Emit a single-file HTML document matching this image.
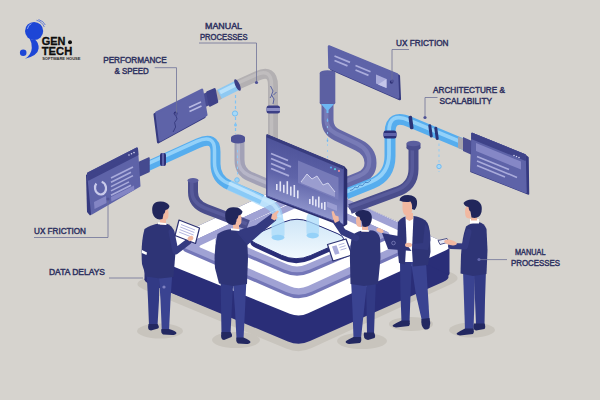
<!DOCTYPE html>
<html><head><meta charset="utf-8"><title>Gen.Tech</title>
<style>html,body{margin:0;padding:0;background:#d6d3ce;}body{width:600px;height:400px;overflow:hidden;font-family:"Liberation Sans",sans-serif;}</style>
</head><body>
<svg width="600" height="400" viewBox="0 0 600 400" style="display:block">
<defs>
<linearGradient id="glass" x1="0" y1="0" x2="0" y2="1"><stop offset="0" stop-color="#cfe6f7"/><stop offset="1" stop-color="#f2f9fe"/></linearGradient>
<linearGradient id="scr" x1="0.3" y1="0" x2="0.1" y2="1"><stop offset="0" stop-color="#4a4f96"/><stop offset="0.45" stop-color="#5f64a9"/><stop offset="0.75" stop-color="#8a90c8"/><stop offset="1" stop-color="#b2c0e6"/></linearGradient>
</defs>
<rect width="600" height="400" fill="#d6d3ce"/>
<g id="platform"><path d="M143.9 289.4Q131.0 284.0 143.8 278.4L287.2 215.6Q300.0 210.0 312.9 215.4L451.1 272.6Q464.0 278.0 451.3 283.9L311.7 348.1Q299.0 354.0 286.1 348.6Z" fill="#c8c4bd"/><path d="M149.3 283.8Q140.0 280.0 149.1 275.8L290.9 209.7Q300.0 205.5 309.1 209.5L444.9 269.6Q454.0 273.6 444.9 277.8L308.1 340.3Q299.0 344.5 289.7 340.7Z" fill="#2a2e78"/><polygon points="144.5,253.0 449.5,246.6 449.5,273.6 144.5,280.0" fill="#2a2e78"/><path d="M149.3 256.8Q140.0 253.0 149.1 248.8L290.9 182.7Q300.0 178.5 309.1 182.5L444.9 242.6Q454.0 246.6 444.9 250.8L308.1 313.3Q299.0 317.5 289.7 313.7Z" fill="#2a2e78"/><path d="M151.1 284.6Q140.0 280.0 150.9 274.9L289.1 210.1Q300.0 205.0 310.9 210.1L443.1 271.9Q454.0 277.0 443.0 281.9L310.0 341.1Q299.0 346.0 287.9 341.4Z" fill="#2a2e78"/><path d="M149.3 256.8Q140.0 253.0 149.1 248.8L290.9 182.7Q300.0 178.5 309.1 182.5L444.9 242.6Q454.0 246.6 444.9 250.8L308.1 313.3Q299.0 317.5 289.7 313.7Z" fill="#ffffff"/><path d="M185.6 252.0Q181.0 250.0 185.5 247.9L306.7 191.4Q314.0 188.0 321.3 191.3L426.4 238.9Q431.0 241.0 426.4 243.1L311.7 295.2Q299.0 301.0 286.1 295.4Z" fill="#7477b8"/><polygon points="183.2,246.5 428.8,237.5 428.8,241.0 183.2,250.0" fill="#7477b8"/><path d="M185.6 248.5Q181.0 246.5 185.5 244.4L306.7 187.9Q314.0 184.5 321.3 187.8L426.4 235.4Q431.0 237.5 426.4 239.6L311.7 291.7Q299.0 297.5 286.1 291.9Z" fill="#7477b8"/><path d="M185.6 248.5Q181.0 246.5 185.5 244.4L306.7 187.9Q314.0 184.5 321.3 187.8L426.4 235.4Q431.0 237.5 426.4 239.6L311.7 291.7Q299.0 297.5 286.1 291.9Z" fill="#a0a2d4"/><path d="M200.8 247.7Q198.0 246.5 200.7 245.2L309.5 193.9Q314.0 191.8 318.5 193.9L411.3 236.3Q414.0 237.5 411.3 238.7L308.1 286.0Q299.0 290.2 289.8 286.2Z" fill="#ffffff"/><path d="M218.5 244.9Q213.0 242.5 218.5 240.0L300.7 202.8Q308.0 199.5 315.3 202.8L386.5 235.0Q392.0 237.5 386.5 239.9L309.9 273.0Q297.0 278.5 284.1 273.0Z" fill="#7477b8"/><polygon points="215.7,239.0 389.3,234.0 389.3,237.5 215.7,242.5" fill="#7477b8"/><path d="M218.5 241.4Q213.0 239.0 218.5 236.5L300.7 199.3Q308.0 196.0 315.3 199.3L386.5 231.5Q392.0 234.0 386.5 236.4L309.9 269.5Q297.0 275.0 284.1 269.5Z" fill="#7477b8"/><path d="M218.5 241.4Q213.0 239.0 218.5 236.5L300.7 199.3Q308.0 196.0 315.3 199.3L386.5 231.5Q392.0 234.0 386.5 236.4L309.9 269.5Q297.0 275.0 284.1 269.5Z" fill="#a0a2d4"/><path d="M231.7 240.6Q228.0 239.0 231.6 237.3L303.5 204.5Q308.0 202.4 312.5 204.5L373.4 232.3Q377.0 234.0 373.3 235.6L306.2 264.6Q297.0 268.6 287.8 264.6Z" fill="#ffffff"/><path d="M255.9 248.0Q245.0 243.0 256.1 238.3L284.1 226.5Q297.0 221.0 309.9 226.5L337.9 238.3Q349.0 243.0 338.0 247.9L310.6 260.0Q296.0 266.5 281.5 259.8Z" fill="#2a2e78"/><polygon points="250.4,238.5 343.6,238.5 343.6,243.0 250.4,243.0" fill="#2a2e78"/><path d="M255.9 243.5Q245.0 238.5 256.1 233.8L284.1 222.0Q297.0 216.5 309.9 222.0L337.9 233.8Q349.0 238.5 338.0 243.4L310.6 255.5Q296.0 262.0 281.5 255.3Z" fill="#2a2e78"/><path d="M255.9 243.5Q245.0 238.5 256.1 233.8L284.1 222.0Q297.0 216.5 309.9 222.0L337.9 233.8Q349.0 238.5 338.0 243.4L310.6 255.5Q296.0 262.0 281.5 255.3Z" fill="url(#glass)" stroke="#2a2e78" stroke-width="1"/></g>
<g id="pipes"><path d="M193 181 L193 192 Q193 204 206 209 L248 225" fill="none" stroke="#4a4d8c" stroke-width="10.0" stroke-linecap="butt" stroke-linejoin="round" opacity="1"/><path d="M193 181 L193 192 Q193 204 206 209 L248 225" fill="none" stroke="#585b9b" stroke-width="3.5" stroke-linecap="butt" stroke-linejoin="round" transform="translate(-1.2 -1.2)" opacity="1"/><ellipse cx="193" cy="180.5" rx="5.5" ry="2.4" fill="#5b5e9f"/><path d="M413.500 146 L413.500 169 Q413.500 186.500 396 192 L350 209" fill="none" stroke="#4a4d8c" stroke-width="10.0" stroke-linecap="butt" stroke-linejoin="round" opacity="1"/><path d="M413.500 146 L413.500 169 Q413.500 186.500 396 192 L350 209" fill="none" stroke="#585b9b" stroke-width="3.5" stroke-linecap="butt" stroke-linejoin="round" transform="translate(-1.2 -1.2)" opacity="1"/><rect x="406.500" y="143.500" width="14" height="4.500" fill="#4a4d8e"/><ellipse cx="413.500" cy="148" rx="7" ry="2.500" fill="#4a4d8e"/><ellipse cx="413.500" cy="143.500" rx="7" ry="2.800" fill="#5b5e9f"/><path d="M239.500 139 L239.500 160 Q239.500 172 250 176.500 L270 185" fill="none" stroke="#a2a1b6" stroke-width="10.0" stroke-linecap="butt" stroke-linejoin="round" opacity="1"/><path d="M239.500 139 L239.500 160 Q239.500 172 250 176.500 L270 185" fill="none" stroke="#b7b6c8" stroke-width="3.5" stroke-linecap="butt" stroke-linejoin="round" transform="translate(-1.2 -1.2)" opacity="1"/><ellipse cx="238" cy="137.500" rx="7" ry="3" fill="#4f5296"/><rect x="231" y="137.500" width="14" height="3.500" fill="#4f5296"/><ellipse cx="238" cy="141" rx="7" ry="2.500" fill="#4f5296"/><path d="M236 85.5 L257 76 Q273 68.5 273 86 L273 140" fill="none" stroke="#b3b0b2" stroke-width="10.0" stroke-linecap="butt" stroke-linejoin="round" opacity="1"/><path d="M236 85.5 L257 76 Q273 68.5 273 86 L273 140" fill="none" stroke="#c0bdbe" stroke-width="3.5" stroke-linecap="butt" stroke-linejoin="round" transform="translate(-1.5 -1.0)" opacity="1"/><path d="M214 97 L237 85.5" stroke="#8ec9f2" stroke-width="10" fill="none"/><path d="M214 97 L219.500 94.250" stroke="#b3b0b3" stroke-width="10" fill="none"/><path d="M220 92.500 L237 84" stroke="#b7e0fa" stroke-width="4" fill="none"/><ellipse cx="237.500" cy="85" rx="2.200" ry="6.300" fill="#3c3f86" transform="rotate(-25 237.5 85)"/><rect x="266.500" y="105.500" width="13.500" height="8" rx="2.500" fill="#3c3f86"/><rect x="266.500" y="108" width="13.500" height="3" fill="#8b8dc4"/><path d="M270.500 86 l2.500 5 l-1.500 4 l2.500 4 l-1 5 M273.500 95 l3 -3 M272 95 l-2 3" stroke="#3d4a9a" stroke-width="0.800" fill="none"/><path d="M235.5 95 L235.5 134" stroke="#7fc4f5" stroke-width="1.2" stroke-dasharray="3 2.5" fill="none"/><circle cx="235" cy="113.500" r="2.600" fill="#a6d9f8" stroke="#6bbaf3" stroke-width="0.900"/><circle cx="235.500" cy="125" r="1.500" fill="#7fc4f5"/><path d="M327.500 101 L327.500 120 Q327.500 130.500 337 135 L358 145 Q370.500 151 370.500 163 Q370.500 173.500 360 177.500 L344 184" fill="none" stroke="#6568a7" stroke-width="12.0" stroke-linecap="butt" stroke-linejoin="round" opacity="1"/><path d="M327.500 101 L327.500 120 Q327.500 130.500 337 135 L358 145 Q370.500 151 370.500 163 Q370.500 173.500 360 177.500 L344 184" fill="none" stroke="#787bb6" stroke-width="4.2" stroke-linecap="butt" stroke-linejoin="round" transform="translate(-1.2 -1.5)" opacity="1"/><rect x="319.700" y="73" width="15.600" height="30" fill="#5c60a2"/><ellipse cx="327.500" cy="73" rx="7.800" ry="2.800" fill="#5c60a2"/><ellipse cx="327.500" cy="103" rx="7.800" ry="2.500" fill="#5c60a2"/><path d="M321 104 L334 104 L328.5 110 L328.5 113 L326.500 113 L326.500 110 Z" fill="#6db7f3"/><path d="M327.5 118 q-1.600 3 0 4 q1.600 -1 0 -4 M327.5 138 q-1.600 3 0 4 q1.600 -1 0 -4" fill="#6db7f3"/><path d="M327.5 126 L327.5 165" stroke="#8ecbf7" stroke-width="0.8" stroke-dasharray="2 4" fill="none"/><path d="M470 147 L410 122 Q390 113.500 390 133 L390 156 Q390 176 372 183.500 L346 194" fill="none" stroke="#56adee" stroke-width="11.0" stroke-linecap="butt" stroke-linejoin="round" opacity="1"/><path d="M470 147 L410 122 Q390 113.500 390 133 L390 156 Q390 176 372 183.500 L346 194" fill="none" stroke="#93d1f9" stroke-width="3.8" stroke-linecap="butt" stroke-linejoin="round" transform="translate(-1.0 -1.8)" opacity="1"/><rect x="409.2" y="115.8" width="3.6" height="13.500" rx="1.500" fill="#2b3478" transform="rotate(-8 411.0 122.5)"/><rect x="429.0" y="124.1" width="3.0" height="13.500" rx="1.500" fill="#2b3478" transform="rotate(-8 430.5 130.8)"/><rect x="435.0" y="126.6" width="3.0" height="13.500" rx="1.500" fill="#2b3478" transform="rotate(-8 436.5 133.3)"/><rect x="383.500" y="130.500" width="13" height="8" rx="2.500" fill="#2c3078"/><rect x="383.500" y="133" width="13" height="3" fill="#5f63aa"/><polygon points="458,136.500 463,138.500 463,150 458,148" fill="#a7a5ad"/><polygon points="463,137 472,141 472,155 463,151" fill="#4a4d90"/><path d="M439 143.500 L439 172" stroke="#8ecbf7" stroke-width="1" stroke-dasharray="2.5 3" fill="none"/><circle cx="439" cy="166.500" r="2.200" fill="#a6d9f8" stroke="#6bb8f2" stroke-width="0.900"/><path d="M138 170.500 L198 143.200 Q215.500 135.500 215.500 152 L215.500 164 Q215.500 179 229 185 L262 199.500" fill="none" stroke="#56adee" stroke-width="10.0" stroke-linecap="butt" stroke-linejoin="round" opacity="1"/><path d="M138 170.500 L198 143.200 Q215.500 135.500 215.500 152 L215.500 164 Q215.500 179 229 185 L262 199.500" fill="none" stroke="#93d1f9" stroke-width="3.5" stroke-linecap="butt" stroke-linejoin="round" transform="translate(-1.0 -1.8)" opacity="1"/><rect x="160" y="153" width="6" height="13" rx="2" fill="#2c3078"/><rect x="162" y="153" width="2" height="13" fill="#5f63aa"/><polygon points="139,162.500 149,158 149,171.500 139,176" fill="#454a8f" stroke="#454a8f" stroke-width="1.500" stroke-linejoin="round"/><circle cx="237" cy="180" r="2.300" fill="#9bd3f8" stroke="#6bbaf3" stroke-width="0.800"/><path d="M237.500 150 L237.500 175" stroke="#8ecbf7" stroke-width="1" stroke-dasharray="2.500 3" fill="none"/><rect x="306.500" y="212" width="12.500" height="26.500" rx="6" fill="#a9dbfa" opacity="0.75"/><ellipse cx="312.700" cy="235.500" rx="6.200" ry="2.800" fill="#8ccdf7" opacity="0.800"/></g>
<g id="panels"><polygon points="154.7,114.3 200.2,91.6 204.5,116.8 158.2,142.1" fill="#363a80" stroke="#363a80" stroke-width="2.500" stroke-linejoin="round"/><polygon points="203.0,94.0 209.0,91.2 211.5,104.0 205.5,107.0" fill="#474a90" /><polygon points="156.5,112.5 202.0,89.8 206.3,115.0 160.0,140.3" fill="#5e63a8" stroke="#5e63a8" stroke-width="2.500" stroke-linejoin="round"/><polygon points="207.5,92.5 214.5,89.3 217.0,102.0 210.0,105.5" fill="#3f4288" stroke="#3f4288" stroke-width="2.500" stroke-linejoin="round"/><path d="M189 107.500 L201 102 M189.500 111.500 L201.500 106" stroke="#b7b9e2" stroke-width="1.600"/><circle cx="175.600" cy="113.500" r="1.900" fill="#2f3276"/><path d="M175.600 115 l1.500 4 l-2.500 3.500 l1 4.500 l-2.500 5" stroke="#2f3276" stroke-width="0.800" fill="none"/><polygon points="86.0,175.0 88.0,173.5 92.0,214.0 90.0,215.5 87.0,212.0" fill="#363a80" /><polygon points="88.0,173.5 137.0,148.5 139.5,186.0 92.0,213.5" fill="#5e63a8" stroke="#5e63a8" stroke-width="2" stroke-linejoin="round"/><polygon points="88.0,173.5 137.0,148.5 137.4,154.5 88.5,179.5" fill="#3f4389" stroke="#3f4389" stroke-width="2" stroke-linejoin="round"/><circle cx="129" cy="155" r="0.800" fill="#d6d7f0"/><circle cx="131.500" cy="153.800" r="0.800" fill="#d6d7f0"/><circle cx="134" cy="152.600" r="0.800" fill="#d6d7f0"/><ellipse cx="100.5" cy="188" rx="5.500" ry="6.500" fill="none" stroke="#c9caea" stroke-width="2.200" transform="rotate(-10 100.5 188)" stroke-dasharray="24 6"/><path d="M111 178.0 l22.0 -11.0" stroke="#a9abdb" stroke-width="1.600"/><path d="M111 182.3 l20.0 -10.0" stroke="#a9abdb" stroke-width="1.600"/><path d="M111 186.6 l22.0 -11.0" stroke="#a9abdb" stroke-width="1.600"/><path d="M111 190.9 l18.0 -9.0" stroke="#a9abdb" stroke-width="1.600"/><path d="M111 195.2 l20.0 -10.0" stroke="#a9abdb" stroke-width="1.600"/><polygon points="94.0,202.0 106.0,196.0 106.5,203.0 94.5,209.0" fill="#8385c4" /><polygon points="111.0,197.0 134.0,185.5 134.4,190.0 111.4,201.5" fill="#8385c4" /><polygon points="330.8,48.0 398.8,76.0 399.8,99.0 331.3,69.0" fill="#363a80" stroke="#363a80" stroke-width="2.500" stroke-linejoin="round"/><polygon points="329.0,46.5 397.0,74.5 398.0,97.5 329.5,67.5" fill="#5e63a8" stroke="#5e63a8" stroke-width="2.500" stroke-linejoin="round"/><path d="M334.500 56 l15.500 6.400 M334.500 60.500 l13 5.400 M355.500 65.500 l15 6.200 M355.500 70 l13 5.400" stroke="#a9abdb" stroke-width="1.700"/><polygon points="376.0,74.5 386.5,79.0 386.5,88.0 376.0,83.5" fill="#a9abda" /><polygon points="386.5,79.0 386.5,88.0 378.0,84.4" fill="#c5c6ea" /><circle cx="391.500" cy="82" r="1.700" fill="#2f3276"/><polygon points="472.0,133.5 525.0,155.0 528.0,157.5 528.5,194.0 526.0,193.0 471.0,171.5" fill="#363a80" stroke="#363a80" stroke-width="1.500" stroke-linejoin="round"/><polygon points="472.0,133.5 525.0,155.0 526.0,192.5 471.5,171.0" fill="#5e63a8" stroke="#5e63a8" stroke-width="1.500" stroke-linejoin="round"/><polygon points="472.0,133.5 525.0,155.0 525.2,160.0 472.0,138.5" fill="#3f4389" stroke="#3f4389" stroke-width="1.500" stroke-linejoin="round"/><circle cx="514" cy="155.500" r="0.800" fill="#d6d7f0"/><circle cx="516.500" cy="156.500" r="0.800" fill="#d6d7f0"/><circle cx="519" cy="157.500" r="0.800" fill="#d6d7f0"/><polygon points="476.0,143.0 521.0,161.5 521.0,169.5 476.0,151.0" fill="#8587c6" /><path d="M477 156.500 l32 13 M477 161 l40 16.400 M477 165.500 l28 11.500" stroke="#a9abdb" stroke-width="1.600"/></g>
<g id="monitor"><polygon points="267.0,135.0 344.0,167.0 346.5,170.0 346.5,224.0 343.5,226.0 267.0,197.0" fill="#2b2e6e" stroke="#2b2e6e" stroke-width="1.500" stroke-linejoin="round"/><polygon points="267.0,135.0 343.5,167.0 343.5,224.5 267.0,196.0" fill="url(#scr)" stroke="#4b4f98" stroke-width="1" stroke-linejoin="round"/><path d="M267 136 L343.500 168" stroke="#383c7e" stroke-width="2.500"/><path d="M271 153.500 l17 7 M271 158.500 l20 8.300 M271 163.500 l14 5.800 M271 168.500 l18 7.400" stroke="#a9abdb" stroke-width="1.800"/><polygon points="298.0,160.5 338.5,177.5 338.5,200.0 298.0,183.0" fill="#7b7fbc" opacity="0.85"/><path d="M301 182 l6 -8 l5 5 l5 -3 l6 9 l5 -2 l7 9 l0 5 l-34 -14 Z" fill="#a9acd8" opacity="0.700"/><path d="M301 182 l6 -8 l5 5 l5 -3 l6 9 l5 -2 l7 9" stroke="#d7d8f0" stroke-width="0.900" fill="none"/><circle cx="331" cy="167.500" r="1.100" fill="#58a6ee"/><circle cx="335" cy="169.200" r="1.100" fill="#58c6d8"/><circle cx="339" cy="170.900" r="1.100" fill="#e58a9c"/><rect x="276.0" y="184.0" width="1.600" height="6.0" fill="#e3e4f6"/><rect x="279.5" y="181.4" width="1.600" height="10.0" fill="#e3e4f6"/><rect x="283.0" y="184.8" width="1.600" height="8.0" fill="#e3e4f6"/><rect x="286.5" y="181.2" width="1.600" height="13.0" fill="#e3e4f6"/><rect x="290.0" y="186.6" width="1.600" height="9.0" fill="#e3e4f6"/><rect x="293.5" y="185.0" width="1.600" height="12.0" fill="#e3e4f6"/><rect x="297.0" y="190.4" width="1.600" height="8.0" fill="#e3e4f6"/><rect x="309.0" y="199.0" width="1.600" height="5.0" fill="#e3e4f6"/><rect x="312.0" y="196.2" width="1.600" height="9.0" fill="#e3e4f6"/><rect x="315.0" y="199.4" width="1.600" height="7.0" fill="#e3e4f6"/><rect x="318.0" y="196.6" width="1.600" height="11.0" fill="#e3e4f6"/><rect x="321.0" y="202.8" width="1.600" height="6.0" fill="#e3e4f6"/><rect x="324.0" y="202.0" width="1.600" height="8.0" fill="#e3e4f6"/><polygon points="327.0,201.5 337.0,205.5 337.0,211.0 327.0,207.0" fill="#9a9dd2" /><path d="M350 190.500 l3 -1 l2 -2.500 l2.500 1 l2 -3 l3 0.500 l2.500 -3 l3 0 l3 -2.500" stroke="#2f6fb8" stroke-width="0.700" fill="none"/></g>
<g id="front"><path d="M229 185 L268 203.500 Q278 208 278 220" stroke="#9fd6fb" stroke-width="10.500" fill="none" opacity="0.700"/><path d="M229 183 L268 201.500 Q279.500 206 279.500 220" stroke="#c9e9fd" stroke-width="3.500" fill="none" opacity="0.700"/><rect x="271.5" y="217.0" width="13" height="23.5" rx="6" fill="#a9dbfa" opacity="0.75"/><ellipse cx="278.0" cy="237.5" rx="6.5" ry="2.8" fill="#8ccdf7" opacity="0.8"/></g>
<g id="people"><ellipse cx="160" cy="331" rx="23" ry="7.5" fill="#c8c4bd"/><ellipse cx="236" cy="340" rx="24" ry="8" fill="#c8c4bd"/><ellipse cx="362" cy="341" rx="25" ry="8" fill="#c8c4bd"/><ellipse cx="411" cy="324" rx="22" ry="7" fill="#c8c4bd"/><ellipse cx="472" cy="330" rx="23" ry="7.5" fill="#c8c4bd"/><g id="p1"><path d="M146.500 270 L159.500 270 L159 300 L157.500 326 L149 326 L148 300 Z" fill="#323a85" /><path d="M148.500 324 L157.500 324 Q160 327 158 328.500 L151 330.500 Q147 330.500 148.500 324 Z" fill="#232861" /><path d="M158.500 270 L172.500 270 L170.500 300 L169 331 L161.800 331 L160.500 300 Z" fill="#3a4391" /><path d="M161.500 329 L169 329 Q176 331 176.500 333 Q176 335 172 335 L163 334.500 Q160.500 333 161.500 329 Z" fill="#232861" /><path d="M144.500 229 Q151 224.500 159 223.500 L166 223.500 Q172 225 174 231 L175.500 252 L173.500 277 L160 278.500 L146 276.500 L142 264 Q140.500 244 144.500 229 Z" fill="#2e3476" /><path d="M142 250 L147 252.500 L146.500 255 L141.800 253 Z" fill="#ffffff" /><path d="M171.500 232 L175.500 251.500 L188.500 241.500" fill="none" stroke="#343a80" stroke-width="6" stroke-linejoin="round" stroke-linecap="round"/><polygon points="179.0,220.0 199.5,228.0 195.5,243.5 175.0,235.5" fill="#ffffff" stroke="#2d3273" stroke-width="1.200" stroke-linejoin="round"/><path d="M181 224.500 l14 5.500 M180.300 227 l14 5.500 M179.600 229.500 l14 5.500 M178.900 232 l14 5.500" stroke="#a9abdb" stroke-width="0.900"/><ellipse cx="190.500" cy="238.500" rx="3" ry="2.300" fill="#f1b8a1" transform="rotate(-30 190.500 238.500)"/><path d="M160 216 L166 216 L166 224.500 L160 224.500 Z" fill="#f1b8a1" /><path d="M163 206 Q169 207 168.500 213 L168.300 217 Q167.500 220.500 163.500 220 Z" fill="#f1b8a1" /><path d="M152.500 213 Q150.500 201.800 160 201.500 Q167 201.200 169.500 206 Q169 209.500 165.500 210 Q165 213.500 163.500 214 L162.500 219 Q155 221 152.500 213 Z" fill="#21265b" /><path d="M158 222.300 L166.800 223.300 L166.300 225 L158 224.200 Z" fill="#ffffff" /><circle cx="164" cy="287" r="1.600" fill="#7d80c0"/></g><g id="p2"><path d="M220.500 278 L233.500 278 L232 305 L230.500 334 L221.500 334 L221 305 Z" fill="#323a85" /><path d="M221.500 332 L230.500 332 Q233 335 231.500 337 L224 340 Q220 340 221.500 332 Z" fill="#232861" /><path d="M232.500 278 L246.500 278 L245 310 L243.500 339 L236.500 339 L235 310 Z" fill="#3a4391" /><path d="M236.500 337.500 L243.500 337.500 Q250 340 250.500 342 Q250 344 246 344 L238 343.500 Q235.500 342 236.500 337.500 Z" fill="#232861" /><path d="M217.500 234 Q224 229.500 232 229 L239 229.500 Q245 231 247 236 L248 258 L247 284 L233 286 L219 283.500 L215 268 Q213.500 250 217.500 234 Z" fill="#2e3476" /><path d="M237 231.500 L256 226 L271.500 214.500 L275.500 220 L260 233 L247.500 244 Z" fill="#343a80" stroke="#343a80" stroke-width="1.500" stroke-linejoin="round"/><path d="M272 214.500 L277.500 210.500 L279 211.500 L276.500 215 L277.500 218 L274.500 220.500 L271 218.500 Z" fill="#f1b8a1" /><path d="M233 222 L239 222 L239 230 L233 230 Z" fill="#f1b8a1" /><path d="M236 211.500 Q241.500 212.500 241.500 218.500 L241.300 222.500 Q240.500 226 236.500 225.500 Z" fill="#f1b8a1" /><path d="M225.500 219 Q223.500 207.500 233 207.200 Q240 207 242.500 211.500 Q242 215 238.500 215.500 Q238 219 236.500 219.500 L235.500 224.500 Q228 226.500 225.500 219 Z" fill="#21265b" /><path d="M231 228.300 L239.800 229.300 L239.300 231 L231 230.200 Z" fill="#ffffff" /></g><g id="p3"><path d="M366 279 L376 279 L375 305 L374 334 L367 334 L366.500 305 Z" fill="#323a85" /><path d="M364 332.500 L374 332.500 Q376 336 374.500 338 L368 340 Q362.500 339 364 332.500 Z" fill="#232861" /><path d="M351 279 L367.500 279 L364 310 L361 338.500 L353.500 338.500 L352.500 310 Z" fill="#3a4391" /><path d="M353.500 337 L361 337 Q362 341 360 343 L349 344 Q344.500 343 346 341 Q349 339 353.500 337 Z" fill="#232861" /><polygon points="327.5,244.5 346.0,239.0 352.0,255.0 333.0,261.0" fill="#ffffff" stroke="#2d3273" stroke-width="1.200" stroke-linejoin="round"/><polygon points="332.0,246.5 336.5,245.2 339.5,253.5 335.0,254.8" fill="#a9abdb" /><path d="M338.500 245 l6 -1.800 M339.500 247.500 l6 -1.800 M340.500 250 l6 -1.800" stroke="#a9abdb" stroke-width="0.900"/><path d="M352.500 235 Q358 230.500 366 230 L373 230.500 Q378.500 232 380 238 L380.500 258 L378 284 L364 286 L350.500 284 L350 262 Q349.500 246 352.500 235 Z" fill="#2e3476" /><path d="M356 238 L343 232 L336 221.500" fill="none" stroke="#343a80" stroke-width="6.500" stroke-linejoin="round" stroke-linecap="round"/><path d="M333 219 L331.500 211.500 L333.500 211 L335.500 215.500 L338.500 216.500 L339 221 L335 223 Z" fill="#f1b8a1" /><path d="M362 224 L368 224 L368 231.500 L362 231.500 Z" fill="#f1b8a1" /><path d="M361.500 214 Q356 215 356 220 L356.300 224 Q357 227.500 361 227 Z" fill="#f1b8a1" /><path d="M371.500 221 Q373.500 211 364 210 Q357.500 209.500 355 213.500 Q356 216.500 359.500 217 Q360 220.500 361.500 221 L362.500 226.500 Q369.500 228.500 371.500 221 Z" fill="#21265b" /><path d="M361 229.800 L369.500 230.200 L369 231.800 L361 231.400 Z" fill="#ffffff" /></g><g id="p4"><path d="M400 262 L412 262 L410.500 295 L409.500 322 L401.500 322 L400.500 295 Z" fill="#323a85" /><path d="M401.500 320.500 L409.500 320.500 Q410.500 324 409 326 L396 327.500 Q391.500 326.500 393 325 Q396 323 401.500 320.500 Z" fill="#232861" /><path d="M411 262 L426 262 L428 295 L429.500 320 L422 321 L416 295 Z" fill="#3a4391" /><path d="M421.500 319 L429.500 318 Q431 323 429.500 328 Q427 330.500 424 329 Q420.500 325 421.500 319 Z" fill="#232861" /><path d="M404.500 217 L415 217 L415 256 L404.500 256 Z" fill="#ffffff" /><path d="M406 213 L413 213 L413 219 L409.500 221 L406 219 Z" fill="#f1b8a1" /><path d="M398 222 Q401 217.500 405.500 216.500 L406.500 240 L405 264.500 L399 263 L397 245 Z" fill="#2e3476" /><path d="M413.500 216 Q420 216.500 425.500 220.500 Q429.500 224 430 235 L430.500 252 L428 265 L413 266.500 L412 250 Z" fill="#2e3476" /><path d="M425 224 Q430.500 228 430.500 240 L428 250 L413 248.500 L412.500 244 L423 243 Z" fill="#343a80" /><polygon points="382.0,233.0 401.0,236.5 411.5,251.0 388.0,249.0" fill="#2f3478" /><circle cx="393.500" cy="243" r="1.800" fill="none" stroke="#7d80bb" stroke-width="0.800"/><ellipse cx="380" cy="230.500" rx="3.800" ry="2" fill="#f1b8a1" transform="rotate(25 380 230.500)"/><ellipse cx="408.500" cy="245" rx="3.500" ry="2.200" fill="#f1b8a1"/><path d="M402.500 203 Q402 199.500 406 199 L412 200 Q413 206 412 211 Q411 216 407 216 Q403 215 402.500 209 Z" fill="#f1b8a1" /><path d="M399.500 200.500 Q400 195 408 195 Q416 195.500 417 201 Q417.500 207 414.500 210 L412 209 Q412.500 204 410.500 201.500 Q405 203 399.500 200.500 Z" fill="#21265b" /></g><g id="p5"><path d="M463 270 L475 270 L474.500 300 L473.500 330 L465 330 L464 300 Z" fill="#3a4391" /><path d="M465 328.500 L473.500 328.500 Q474.500 332 473 334 L460 335.500 Q455.500 334.500 457 333 Q460 331 465 328.500 Z" fill="#232861" /><path d="M474 270 L486 270 L485 300 L484.500 325 L476 325 L475 300 Z" fill="#323a85" /><path d="M474 323.500 L484.500 323.500 Q486 327 484.500 329 L476 330.500 Q472 329.500 474 323.500 Z" fill="#232861" /><path d="M466 226.500 Q471 222.500 478 222 Q484.500 223 486.500 229 L487.500 250 L486.500 274 L473 276 L460.500 273.500 L461 255 Q462 238 466 226.500 Z" fill="#2e3476" /><path d="M468.500 232 L465 246.500 L451 246" fill="none" stroke="#343a80" stroke-width="6" stroke-linejoin="round" stroke-linecap="round"/><polygon points="438.0,240.5 447.0,238.5 449.0,242.0 440.0,244.5" fill="#e8e8f2" stroke="#2d3273" stroke-width="0.800" stroke-linejoin="round"/><ellipse cx="450.500" cy="242.500" rx="6.500" ry="2.600" fill="#f1b8a1" transform="rotate(12 450.500 242.500)"/><path d="M470 219 L479 219 L479 223.500 L470 223.500 Z" fill="#ffffff" /><path d="M471 214 L477 214 L477 220.500 L471 220.500 Z" fill="#f1b8a1" /><path d="M470.500 204.500 Q465 205.500 465 211 L465.300 215 Q466 219 470.500 218.500 Z" fill="#f1b8a1" /><path d="M481.500 212 Q483.500 201 473 199.500 Q466.500 199 463.500 203 Q464.500 206.500 468.500 207 Q469 211 470.500 211.500 L471.500 217.500 Q479.500 219.500 481.500 212 Z" fill="#21265b" /><circle cx="479" cy="259.500" r="1.600" fill="#6266ad"/></g></g>
<g id="labels" font-family="Liberation Sans, sans-serif" stroke="#2e3160" stroke-width="0.450"><text x="205.0" y="29.0" font-size="9" textLength="37.0" lengthAdjust="spacingAndGlyphs" font-weight="normal" fill="#2e3160" >MANUAL</text><text x="200.0" y="40.0" font-size="9" textLength="47.5" lengthAdjust="spacingAndGlyphs" font-weight="normal" fill="#2e3160" >PROCESSES</text><text x="103.2" y="62.7" font-size="9" textLength="63.5" lengthAdjust="spacingAndGlyphs" font-weight="normal" fill="#2e3160" >PERFORMANCE</text><text x="114.5" y="73.5" font-size="9" textLength="34.3" lengthAdjust="spacingAndGlyphs" font-weight="normal" fill="#2e3160" >&amp; SPEED</text><text x="396.0" y="46.0" font-size="9" textLength="52.5" lengthAdjust="spacingAndGlyphs" font-weight="normal" fill="#2e3160" >UX FRICTION</text><text x="433.0" y="93.0" font-size="9" textLength="72.0" lengthAdjust="spacingAndGlyphs" font-weight="normal" fill="#2e3160" >ARCHITECTURE &amp;</text><text x="439.5" y="103.5" font-size="9" textLength="52.5" lengthAdjust="spacingAndGlyphs" font-weight="normal" fill="#2e3160" >SCALABILITY</text><text x="34.0" y="234.0" font-size="9" textLength="52.0" lengthAdjust="spacingAndGlyphs" font-weight="normal" fill="#2e3160" >UX FRICTION</text><text x="49.0" y="274.5" font-size="9" textLength="56.0" lengthAdjust="spacingAndGlyphs" font-weight="normal" fill="#2e3160" >DATA DELAYS</text><text x="515.0" y="255.0" font-size="9" textLength="30.5" lengthAdjust="spacingAndGlyphs" font-weight="normal" fill="#2e3160" >MANUAL</text><text x="511.0" y="266.0" font-size="9" textLength="49.0" lengthAdjust="spacingAndGlyphs" font-weight="normal" fill="#2e3160" >PROCESSES</text><path d="M199 43 L256.500 43 L256.500 82" fill="none" stroke="#6f7298" stroke-width="0.800"/><circle cx="256.5" cy="82.5" r="1.6" fill="#4f5296" stroke="none"/><path d="M154.700 67.700 L176.500 67.700 L176.500 113" fill="none" stroke="#6f7298" stroke-width="0.800"/><circle cx="176.0" cy="114.0" r="1.6" fill="#4f5296" stroke="none"/><path d="M409 49.500 L392 49.500 L392 80" fill="none" stroke="#6f7298" stroke-width="0.800"/><circle cx="392.5" cy="81.0" r="1.6" fill="#4f5296" stroke="none"/><path d="M437.500 97.500 L425 97.500 L425 116" fill="none" stroke="#6f7298" stroke-width="0.800"/><circle cx="425.0" cy="117.5" r="1.6" fill="#4f5296" stroke="none"/><path d="M34 237.500 L108 237.500 L108 200" fill="none" stroke="#6f7298" stroke-width="0.800"/><circle cx="108.0" cy="199.0" r="1.6" fill="#4f5296" stroke="none"/><path d="M109 278 L143 278" fill="none" stroke="#6f7298" stroke-width="0.800"/><path d="M480 259.600 L507 259.600" fill="none" stroke="#6f7298" stroke-width="0.800"/></g>
<g id="logo" font-family="Liberation Sans, sans-serif"><circle cx="34.100" cy="31" r="9.100" fill="#1d46d6"/><path d="M29.500 38.500 Q32 40 35 39.600 Q38.800 42.500 38.600 48.500 Q38 55.500 25 58.800 Q31.500 54.500 31.800 48 Q32 42.500 29.500 38.500 Z" fill="#1d46d6"/><circle cx="23.200" cy="52.700" r="3.300" fill="#1d46d6"/><path d="M36.500 20.300 Q42 21.500 44.300 27 M38.500 19.500 Q43.500 21 45.300 25" stroke="#1d46d6" stroke-width="0.600" fill="none"/><path d="M27.500 28.500 Q28 25 31 23.800" stroke="#9db4f5" stroke-width="0.900" fill="none" stroke-linecap="round"/><text x="41.8" y="45.2" font-size="10.5" textLength="23.7" lengthAdjust="spacingAndGlyphs" font-weight="bold" fill="#0d0d0d" stroke="#0d0d0d" stroke-width="0.300">GEN</text><circle cx="70" cy="42.200" r="2" fill="#0d0d0d"/><text x="41.8" y="55.0" font-size="11.5" textLength="30.4" lengthAdjust="spacingAndGlyphs" font-weight="bold" fill="#0d0d0d" stroke="#0d0d0d" stroke-width="0.300">TECH</text><text x="42.2" y="59.6" font-size="3.3" textLength="38.3" lengthAdjust="spacingAndGlyphs" font-weight="bold" fill="#2a2a2a" >SOFTWARE HOUSE</text></g>
</svg>
</body></html>
